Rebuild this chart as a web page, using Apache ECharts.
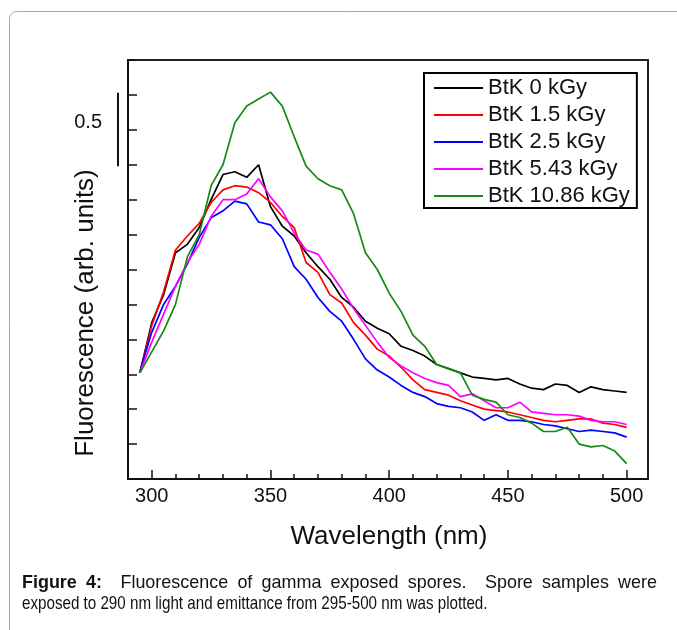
<!DOCTYPE html>
<html><head><meta charset="utf-8">
<script src="https://cdn.jsdelivr.net/npm/echarts@6/dist/echarts.min.js"></script>
<style>html,body{margin:0;padding:0;background:#fff}#c{width:677px;height:630px}</style>
</head><body><div id="c"></div>
<script>
// ---- data ----
const wavelengths = [295,300,305,310,315,320,325,330,335,340,345,350,355,360,365,370,375,380,385,390,395,400,405,410,415,420,425,430,435,440,445,450,455,460,465,470,475,480,485,490,495,500];
const btk0    = [0.76,1.12,1.32,1.62,1.68,1.80,2.00,2.18,2.20,2.16,2.25,1.95,1.81,1.74,1.62,1.52,1.43,1.30,1.23,1.13,1.08,1.04,0.95,0.92,0.88,0.82,0.79,0.76,0.73,0.72,0.71,0.72,0.68,0.65,0.64,0.68,0.67,0.62,0.66,0.64,0.63,0.62];
const btk1_5  = [0.76,1.10,1.34,1.64,1.74,1.83,1.98,2.07,2.10,2.09,2.05,1.98,1.88,1.80,1.55,1.48,1.32,1.26,1.12,1.03,0.93,0.88,0.80,0.71,0.64,0.62,0.60,0.56,0.53,0.50,0.49,0.48,0.46,0.44,0.42,0.41,0.42,0.43,0.43,0.40,0.39,0.37];
const btk2_5  = [0.77,1.05,1.25,1.38,1.54,1.73,1.87,1.92,1.99,1.97,1.84,1.82,1.72,1.52,1.43,1.30,1.20,1.13,1.00,0.86,0.78,0.73,0.67,0.62,0.59,0.54,0.52,0.51,0.48,0.42,0.46,0.42,0.42,0.41,0.39,0.38,0.36,0.34,0.35,0.34,0.33,0.30];
const btk5_43 = [0.76,0.98,1.18,1.38,1.55,1.68,1.88,2.00,2.00,2.04,2.15,2.02,1.92,1.76,1.64,1.61,1.48,1.36,1.22,1.10,0.98,0.87,0.81,0.76,0.72,0.69,0.67,0.59,0.61,0.56,0.51,0.51,0.55,0.48,0.47,0.46,0.46,0.45,0.42,0.41,0.41,0.39];
const btk10_86= [0.76,0.91,1.06,1.25,1.59,1.75,2.10,2.25,2.55,2.67,2.72,2.77,2.67,2.45,2.24,2.15,2.10,2.07,1.90,1.62,1.50,1.33,1.20,1.03,0.95,0.82,0.79,0.76,0.60,0.57,0.55,0.46,0.44,0.40,0.34,0.34,0.37,0.25,0.23,0.24,0.20,0.11];
const seriesNames = ['BtK 0 kGy','BtK 1.5 kGy','BtK 2.5 kGy','BtK 5.43 kGy','BtK 10.86 kGy'];
const seriesValues = [btk0, btk1_5, btk2_5, btk5_43, btk10_86];
const seriesColors = ['#000000','#ff0000','#0000ff','#ff00ff','#158a15'];
const xMajorTicks = [300,350,400,450,500];
const xMinorTicks = [310,320,330,340,360,370,380,390,410,420,430,440,460,470,480,490];
const scaleBarLabel = '0.5';
const scaleBarRange = [2.24, 2.765];
const xTitle = 'Wavelength (nm)';
const yTitle = 'Fluorescence (arb. units)';
const captionLine1 = [['Figure',1],['4:',1],['Fluorescence',0],['of',0],['gamma',0],['exposed',0],['spores.',0],['Spore',0],['samples',0],['were',0]];
const captionGapWeights = [1,2,1,1,1,1,2,1,1];
const captionLine2 = 'exposed to 290 nm light and emittance from 295-500 nm was plotted.';

const FONT = '"Liberation Sans", Arial, sans-serif';

const chart = echarts.init(document.getElementById('c'), null, {renderer:'canvas'});

// caption: line 1 justified, line 2 condensed (narrow-font look)
const mctx = document.createElement('canvas').getContext('2d');
const capSize = 18.5;
const capScale1 = 0.97;
const capScale2 = 0.82;
function capFont(b){ return (b ? 'bold ' : '') + capSize + 'px ' + FONT; }
const widths = captionLine1.map(([t,b]) => { mctx.font = capFont(b); return mctx.measureText(t).width * capScale1; });
const capX0 = 22, capX1 = 657;
const totalW = widths.reduce((a,b)=>a+b,0);
const totalWeights = captionGapWeights.reduce((a,b)=>a+b,0);
const unitGap = (capX1 - capX0 - totalW) / totalWeights;
const captionGraphics = [];
let cx = capX0;
captionLine1.forEach(([t,b], i) => {
  captionGraphics.push({type:'text', x:cx, y:583, scaleX:capScale1, style:{text:t, font:capFont(b), fill:'#111', textAlign:'left', verticalAlign:'middle'}, silent:true});
  cx += widths[i] + (i < captionGapWeights.length ? captionGapWeights[i]*unitGap : 0);
});
captionGraphics.push({type:'text', x:capX0, y:604, scaleX:capScale2, style:{text:captionLine2, font:capFont(0), fill:'#111', textAlign:'left', verticalAlign:'middle'}, silent:true});

const option = {
  animation:false,
  backgroundColor:'#fff',
  grid:{left:128, right:29, top:60, bottom:151, show:true, borderColor:'#222', borderWidth:2},
  legend:{
    orient:'vertical', left:424, top:73, data:seriesNames, selectedMode:false,
    icon:'rect', itemWidth:49, itemHeight:2, itemGap:5, padding:[4,7,1,10],
    borderColor:'#000', borderWidth:2, backgroundColor:'#fff',
    textStyle:{fontFamily:FONT, fontSize:22, color:'#111'}
  },
  xAxis:[{
    type:'value', min:290, max:509, position:'bottom',
    axisLine:{show:true, lineStyle:{color:'#111', width:2}},
    axisTick:{show:true, inside:true, length:9, customValues:xMajorTicks, lineStyle:{color:'#111', width:1.5}},
    axisLabel:{show:true, customValues:xMajorTicks, fontFamily:FONT, fontSize:20, color:'#111', margin:7},
    splitLine:{show:false}
  },{
    type:'value', min:290, max:509, position:'bottom', gridIndex:0,
    axisLine:{show:false},
    axisTick:{show:true, inside:true, length:5, customValues:xMinorTicks, lineStyle:{color:'#111', width:1.5}},
    axisLabel:{show:false},
    splitLine:{show:false}
  }],
  yAxis:{
    type:'value', min:0, max:3, interval:0.25,
    axisLine:{show:true, lineStyle:{color:'#111', width:2}},
    axisTick:{show:true, inside:true, length:9, lineStyle:{color:'#111', width:1.5}},
    axisLabel:{show:false},
    splitLine:{show:false}
  },
  series: seriesNames.map((n,i)=>({
    name:n, type:'line', xAxisIndex:0, symbol:'none', showSymbol:false,
    lineStyle:{color:seriesColors[i], width:1.7}, itemStyle:{color:seriesColors[i]},
    data: wavelengths.map((w,k)=>[w, seriesValues[i][k]])
  }))
};
chart.setOption(option);

// decorations positioned through the axes
const pTop = chart.convertToPixel({gridIndex:0}, [290, scaleBarRange[1]]);
const pBot = chart.convertToPixel({gridIndex:0}, [290, scaleBarRange[0]]);
const pMid = chart.convertToPixel({gridIndex:0}, [290, 2.55]);
const pXT = chart.convertToPixel({gridIndex:0}, [410, 0]);
chart.setOption({graphic:[
  {type:'rect', shape:{x:9.5, y:11.5, width:720, height:720, r:7}, style:{fill:'none', stroke:'#a8a8a8', lineWidth:1}, silent:true},
  {type:'line', shape:{x1:pTop[0]-10, y1:pTop[1], x2:pBot[0]-10, y2:pBot[1]}, style:{stroke:'#111', lineWidth:2}, silent:true},
  {type:'text', x:pMid[0]-26, y:pMid[1], style:{text:scaleBarLabel, font:'20px '+FONT, fill:'#111', textAlign:'right', verticalAlign:'middle'}, silent:true},
  {type:'text', x:pXT[0]-24, y:pXT[1]+58, style:{text:xTitle, font:'26px '+FONT, fill:'#111', textAlign:'center', verticalAlign:'middle'}, silent:true},
  {type:'text', x:86, y:313, rotation:Math.PI/2, style:{text:yTitle, font:'26px '+FONT, fill:'#111', textAlign:'center', verticalAlign:'middle'}, silent:true}
].concat(captionGraphics)});
</script>
</body></html>
